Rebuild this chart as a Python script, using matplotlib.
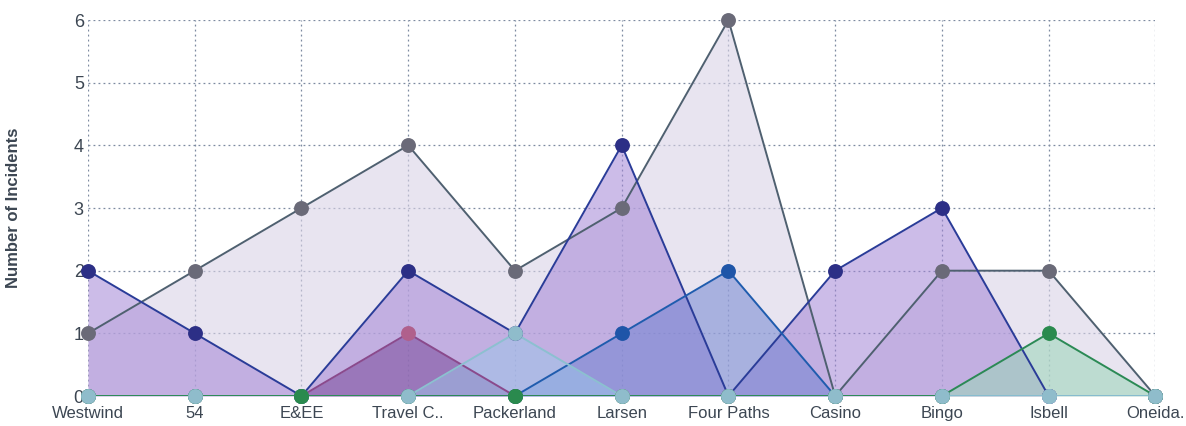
import matplotlib
matplotlib.use("Agg")
import matplotlib.pyplot as plt
import numpy as np

categories = ["Westwind", "54", "E&EE", "Travel C..", "Packerland", "Larsen",
              "Four Paths", "Casino", "Bingo", "Isbell", "Oneida."]
series_gray   = [1, 2, 3, 4, 2, 3, 6, 0, 2, 2, 0]
series_indigo = [2, 1, 0, 2, 1, 4, 0, 2, 3, 0, 0]
series_mauve  = [0, 0, 0, 1, 0, 0, 0, 0, 0, 0, 0]
series_blue   = [0, 0, 0, 0, 0, 1, 2, 0, 0, 0, 0]
series_teal   = [0, 0, 0, 0, 1, 0, 0, 0, 0, 0, 0]
series_green  = [0, 0, 0, 0, 0, 0, 0, 0, 0, 1, 0]
yticks = [0, 1, 2, 3, 4, 5, 6]

plt.rcParams['font.family'] = ['Liberation Sans', 'DejaVu Sans']

fig = plt.figure(figsize=(11.86, 4.26), dpi=100)
ax = fig.add_axes([0.0742, 0.0704, 0.9, 0.8826])
x = np.arange(len(categories))

styles = [
    (series_gray,   "#4f6070", "#6a6a78", "#d9d2e6", 0.6),
    (series_indigo, "#2a3c98", "#2c2f86", "#a385d6", 0.55),
    (series_mauve,  "#8a4a8c", "#b0608c", "#7a4a9a", 0.55),
    (series_blue,   "#1f5cae", "#1f55a8", "#6a7fd0", 0.5),
    (series_teal,   "#8cc0d0", "#8fbccb", "#9cc6ea", 0.5),
    (series_green,  "#2b8a55", "#2a8a4e", "#9ad6b8", 0.55),
]
for i, (vals, lc, mc, fc, fa) in enumerate(styles):
    ax.fill_between(x, 0, vals, color=fc, alpha=fa, lw=0, zorder=2 + i)
    ax.plot(x, vals, color=lc, lw=1.4, zorder=10 + i)

for i, (vals, lc, mc, fc, fa) in enumerate(styles):
    ax.scatter(x, vals, s=115, color=mc, zorder=20 + i, clip_on=False, lw=0)
# green marker at Packerland/E&EE zero, teal at other zeros (as in reference)
ax.scatter([4, 2], [series_green[4], series_green[2]], s=115, color="#2a8a4e",
           zorder=40, clip_on=False, lw=0)
idx = [0, 1, 3, 5, 6, 7, 8, 9, 10]
ax.scatter(idx, [series_teal[k] for k in idx],
           s=115, color="#8fbccb", zorder=41, clip_on=False, lw=0)

ax.set_xlim(0, len(categories) - 1)
ax.set_ylim(0, 6)
ax.set_xticks(x)
ax.set_xticklabels(categories, fontsize=12, color="#3c4652")
ax.set_yticks(yticks)
ax.set_yticklabels([str(v) for v in yticks], fontsize=13, color="#3c4652")
ax.tick_params(axis='both', length=0)
ax.tick_params(axis='y', pad=3)
ax.tick_params(axis='x', pad=7)
ax.grid(True, color="#7d8aa0", linestyle=(0, (1.5, 2.5)), lw=0.9, zorder=1)
for s in ax.spines.values():
    s.set_visible(False)
ax.set_ylabel("Number of Incidents", fontsize=12, color="#3c4652",
              fontweight="bold", labelpad=38)

fig.savefig("out.png", dpi=100)
